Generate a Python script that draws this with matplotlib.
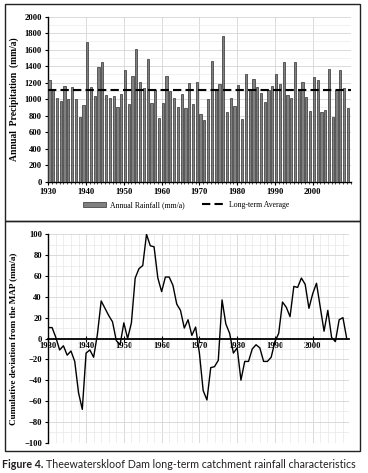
import matplotlib
matplotlib.use("Agg")
import matplotlib.pyplot as plt
from matplotlib.patches import Rectangle
from matplotlib.ticker import MultipleLocator

years = list(range(1930, 2010))
rainfall = [1228, 1110, 1014, 975, 1160, 1000, 1145, 1000, 780, 930,
            1690, 1145, 1040, 1390, 1445, 1050, 1020, 1040, 910, 1063,
            1354, 942, 1285, 1603, 1205, 1132, 1487, 958, 1111, 776,
            958, 1285, 1100, 1015, 909, 1063, 895, 1202, 938, 1212,
            820, 747, 998, 1463, 1111, 1180, 1766, 840, 1010, 917,
            1172, 764, 1305, 1111, 1240, 1143, 1070, 966, 1111, 1160,
            1301, 1184, 1450, 1050, 1018, 1450, 1099, 1212, 1030, 856,
            1265, 1228, 848, 869, 1366, 780, 1111, 1353, 1131, 897]
long_term_avg = 1110
cum_dev = [10.5, 10.5, 1, -11, -7, -16, -12, -22, -52, -68,
           -14, -11, -18, 4, 36, 29, 22, 16, -2, -6,
           15, 0, 15, 58, 67, 70, 100, 89, 88, 58,
           45, 59, 59, 51, 33, 27, 10, 18, 3, 11,
           -14, -50, -59, -28, -27, -21, 37, 14, 5, -14,
           -9, -40, -22, -22, -10, -6, -9, -22, -22, -18,
           -3, 5, 35, 30, 21, 50, 49, 58, 52, 29,
           43, 53, 30, 7, 27, 1, -3, 18, 20, 0]

W, H = 368, 473
serif = "Liberation Serif"
tick_font = dict(family=serif, weight="bold", size=6.2)

fig = plt.figure(figsize=(W / 100, H / 100), dpi=100)

def fbox(x0, y0, x1, y1):
    # pixel box (top-left origin) -> figure fractions
    return [x0 / W, 1 - y1 / H, (x1 - x0) / W, (y1 - y0) / H]

# panel frames
for y0, y1 in [(4, 221.5), (221.5, 450.7)]:
    fig.add_artist(Rectangle((4.7 / W, 1 - y1 / H), (360 - 4.7) / W, (y1 - y0) / H,
                             transform=fig.transFigure, fill=False,
                             edgecolor="#222222", linewidth=1.0))

# ---- top: annual rainfall bars
ax1 = fig.add_axes(fbox(48.3, 16.7, 350.5, 181.7))
bars = ax1.bar(years, rainfall, width=0.6, align="edge", color="#808080",
               edgecolor="#303030", linewidth=0.5, zorder=3)
avg_line, = ax1.plot([1930, 2010], [long_term_avg, long_term_avg], color="black",
                     lw=1.5, dashes=(4, 2), zorder=4)
ax1.set_xlim(1930, 2010)
ax1.set_ylim(0, 2000)
ax1.yaxis.set_major_locator(MultipleLocator(200))
ax1.yaxis.set_minor_locator(MultipleLocator(100))
ax1.set_xticks(range(1930, 2001, 10))
ax1.xaxis.set_minor_locator(MultipleLocator(1))
ax1.grid(True, which="major", color="#d4d4d4", lw=0.6, zorder=0)
ax1.grid(True, which="minor", axis="y", color="#ececec", lw=0.5, zorder=0)
for s in ["top", "right"]:
    ax1.spines[s].set_visible(False)
ax1.spines["left"].set_linewidth(1.0)
ax1.spines["bottom"].set_linewidth(1.0)
ax1.tick_params(axis="both", which="major", length=2.5, width=0.8, pad=2)
ax1.tick_params(axis="y", which="minor", length=0)
ax1.tick_params(axis="x", which="minor", length=1.5, width=0.5)
for lab in ax1.get_xticklabels() + ax1.get_yticklabels():
    lab.set_fontproperties(tick_font)
ax1.set_ylabel("Annual  Precipitation  (mm/a)", family=serif, weight="bold",
               size=6.9, labelpad=4)
fig.legend([bars, avg_line], ["Annual Rainfall (mm/a)", "Long-term Average"],
           loc="center", ncol=2, bbox_to_anchor=(0.505, 1 - 205 / H), frameon=False,
           prop=dict(family=serif, size=5.6), handlelength=3.0,
           columnspacing=2.2, handletextpad=0.5)

# ---- bottom: cumulative deviation
ax2 = fig.add_axes(fbox(48.3, 234.3, 348.6, 442.7))
ax2.plot(years, cum_dev, color="black", lw=1.0, zorder=3)
ax2.set_xlim(1930, 2009.5)
ax2.set_ylim(-100, 100)
ax2.yaxis.set_major_locator(MultipleLocator(20))
ax2.yaxis.set_minor_locator(MultipleLocator(10))
ax2.set_xticks(range(1930, 2001, 10))
ax2.xaxis.set_minor_locator(MultipleLocator(2))
ax2.grid(True, which="major", color="#d4d4d4", lw=0.6, zorder=0)
ax2.grid(True, which="minor", color="#e8e8e8", lw=0.5, zorder=0)
for s in ["top", "right"]:
    ax2.spines[s].set_visible(False)
ax2.spines["bottom"].set_position(("data", 0))
ax2.spines["bottom"].set_linewidth(1.3)
ax2.spines["bottom"].set_zorder(4)
ax2.spines["left"].set_linewidth(1.0)
ax2.tick_params(axis="x", which="major", direction="inout", length=4, width=0.8, pad=0.5)
ax2.tick_params(axis="x", which="minor", length=0)
ax2.tick_params(axis="y", which="major", length=2.5, width=0.8, pad=2)
ax2.tick_params(axis="y", which="minor", length=0)
for lab in ax2.get_xticklabels() + ax2.get_yticklabels():
    lab.set_fontproperties(tick_font)
ax2.set_ylabel("Cumulative deviation from the MAP (mm/a)", family=serif,
               weight="bold", size=6.6, labelpad=5)

# caption
fig.text(2 / W, 1 - 464 / H, "Figure 4.", family="Lato", weight="bold",
         size=7.7, color="#231f20", va="center", ha="left")
fig.text(46.5 / W, 1 - 464 / H,
         "Theewaterskloof Dam long-term catchment rainfall characteristics",
         family="Lato", size=7.7, color="#231f20", va="center", ha="left")

fig.savefig("out.png", dpi=100)
